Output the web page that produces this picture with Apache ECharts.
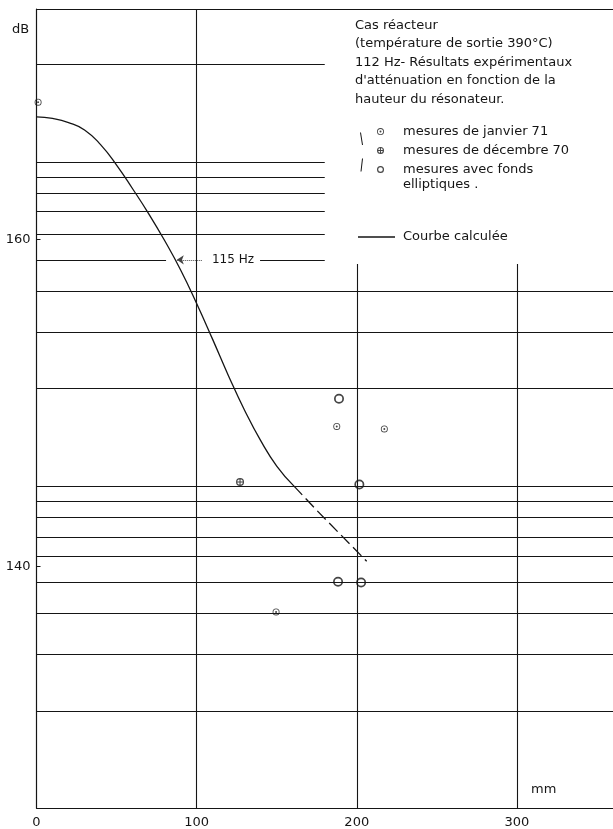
<!DOCTYPE html>
<html>
<head>
<meta charset="utf-8">
<style>
  html, body { margin: 0; padding: 0; background: #fff; }
  #chart { width: 613px; height: 829px; }
</style>
<script src="https://cdn.jsdelivr.net/npm/echarts@6/dist/echarts.min.js"></script>
</head>
<body>
<div id="chart"></div>
<script>
// axis ticks
const xTicks = [0, 100, 200, 300]
const yTicks = [140, 160]

// horizontal lines of the paper (dB)
const hLinesFull = [156.8, 154.3, 150.9, 144.9, 144.0, 143.0, 141.8, 140.6, 139.0, 137.1, 134.6, 131.1]
const hLinesShort = [170.7, 164.7, 163.8, 162.8, 161.7, 160.3]
const hzLine = 158.75

const curveSolid = [
  [0, 167.5], [10, 167.4], [20, 167.15], [30, 166.7], [40, 165.8], [50, 164.55],
  [60, 163.1], [70, 161.58], [80, 159.93], [90, 158.13], [100, 156.08], [110, 153.88],
  [120, 151.63], [130, 149.53], [140, 147.68], [150, 146.13], [160.8, 144.9]
]
const curveDashed = [[160.8, 144.9], [175.2, 143.4], [190.2, 141.9], [206.2, 140.3]]

// mesures
const janvier71 = [[1, 168.4], [187.5, 148.55], [217.2, 148.4], [149.6, 137.2]]
const decembre70 = [[127.1, 145.15]]
const elliptiques = [[188.9, 150.25], [201.6, 145.0], [188.3, 139.05], [202.7, 139.0]]

const noteLines = [
  'Cas réacteur',
  '(température de sortie 390°C)',
  '112 Hz- Résultats expérimentaux',
  "d'atténuation en fonction de la",
  'hauteur du résonateur.'
]

const X_MAX = 360
const Y_MIN = 125.2
const Y_MAX = 174.1
const SHORT_END = 180
const V_TOP = 158.5
const HZ_LEFT_END = 80.9
const HZ_RIGHT_START = 139.6
const ARROW_TAIL = 103.2
const ARROW_TIP = 87.6
const HZ_TEXT_X = 122.7

const ink = '#151515'
const font = 'DejaVu Sans'

const ring = r => `M0,-10A10,10,0,1,1,0,10A10,10,0,1,1,0,-10Z M0,-${r}A${r},${r},0,1,0,0,${r}A${r},${r},0,1,0,0,-${r}Z`
const janvierSym = 'path://' + ring(7.5) + ' M0,-2.8A2.8,2.8,0,1,1,0,2.8A2.8,2.8,0,1,1,0,-2.8Z'
const decSym = 'path://' + ring(7) + ' M-7.5,-1.3L7.5,-1.3L7.5,1.3L-7.5,1.3Z M-1.3,-7.5L1.3,-7.5L1.3,7.5L-1.3,7.5Z'
const ellipSym = 'path://' + ring(6.6)

const gridLines = [
  {yAxis: Y_MAX},
  ...hLinesFull.map(v => ({yAxis: v})),
  ...hLinesShort.map(v => [{coord: [0, v]}, {coord: [SHORT_END, v]}]),
  [{coord: [0, hzLine]}, {coord: [HZ_LEFT_END, hzLine]}],
  [{coord: [HZ_RIGHT_START, hzLine]}, {coord: [SHORT_END, hzLine]}],
  {xAxis: 100},
  [{coord: [200, Y_MIN]}, {coord: [200, V_TOP]}],
  [{coord: [300, Y_MIN]}, {coord: [300, V_TOP]}]
]

const chart = echarts.init(document.getElementById('chart'))

const option = {
  backgroundColor: '#fff',
  animation: false,
  title: {
    text: noteLines.join('\n'),
    left: 355,
    top: 16,
    padding: 0,
    textStyle: {
      fontFamily: font,
      fontSize: 13,
      fontWeight: 'normal',
      color: ink,
      lineHeight: 18.5
    }
  },
  legend: [{
    orient: 'vertical',
    left: 377,
    top: 125,
    padding: 0,
    itemWidth: 7,
    itemHeight: 7,
    itemGap: 6,
    selectedMode: false,
    data: [
      {name: 'mesures de janvier 71', icon: janvierSym},
      {name: 'mesures de décembre 70', icon: decSym},
      {name: 'mesures avec fonds elliptiques .', icon: ellipSym}
    ],
    formatter: n => n.startsWith('mesures avec') ? 'mesures avec fonds' : n,
    textStyle: {
      fontFamily: font,
      fontSize: 13,
      color: ink,
      lineHeight: 12,
      padding: [0, 0, 0, 14]
    }
  }, {
    left: 358,
    top: 230,
    padding: 0,
    itemWidth: 37,
    itemHeight: 1.4,
    selectedMode: false,
    data: [{name: 'Courbe calculée', icon: 'rect'}],
    textStyle: {
      fontFamily: font,
      fontSize: 13,
      color: ink,
      lineHeight: 14,
      padding: [0, 0, 0, 3]
    }
  }],
  grid: {
    left: 36.5,
    right: 0,
    top: 9,
    bottom: 21,
    outerBoundsMode: 'none'
  },
  xAxis: {
    type: 'value',
    min: 0,
    max: X_MAX,
    axisLine: {show: true, lineStyle: {color: ink, width: 1.2}},
    axisTick: {show: false},
    splitLine: {show: false},
    axisLabel: {
      customValues: xTicks,
      margin: 8,
      fontFamily: font,
      fontSize: 13,
      color: ink
    }
  },
  yAxis: {
    type: 'value',
    min: Y_MIN,
    max: Y_MAX,
    axisLine: {show: true, lineStyle: {color: ink, width: 1.2}},
    axisTick: {show: true, inside: true, length: 4, customValues: yTicks, lineStyle: {color: ink}},
    splitLine: {show: false},
    axisLabel: {
      customValues: yTicks,
      margin: 6,
      fontFamily: font,
      fontSize: 13,
      color: ink
    }
  },
  graphic: [
    {type: 'text', left: 12, top: 23, style: {text: 'dB', font: `13px "${font}"`, fill: ink}},
    {type: 'text', left: 531, top: 783, style: {text: 'mm', font: `13px "${font}"`, fill: ink}},
    {type: 'text', left: 403, top: 178, style: {text: 'elliptiques .', font: `13px "${font}"`, fill: ink}},
    {type: 'line', shape: {x1: 360.5, y1: 132.5, x2: 362.5, y2: 145}, style: {stroke: ink, lineWidth: 1}},
    {type: 'line', shape: {x1: 362.5, y1: 158.5, x2: 361, y2: 171.5}, style: {stroke: ink, lineWidth: 1}}
  ],
  series: [
    {
      name: 'Courbe calculée',
      type: 'line',
      data: curveSolid,
      smooth: true,
      symbol: 'none',
      color: ink,
      lineStyle: {color: ink, width: 1.3},
      z: 3,
      markLine: {
        silent: true,
        symbol: ['none', 'arrow'],
        symbolSize: 7,
        label: {show: false},
        lineStyle: {color: '#444', width: 1, type: 'dotted'},
        data: [[{coord: [ARROW_TAIL, hzLine]}, {coord: [ARROW_TIP, hzLine]}]]
      },
      markPoint: {
        silent: true,
        symbol: 'circle',
        symbolSize: 0,
        label: {
          show: true,
          position: 'inside',
          formatter: '115 Hz',
          fontFamily: font,
          fontSize: 12,
          color: ink
        },
        data: [{coord: [HZ_TEXT_X, hzLine]}]
      }
    },
    {
      name: 'Courbe extrapolée',
      type: 'line',
      data: curveDashed,
      symbol: 'none',
      color: ink,
      lineStyle: {color: ink, width: 1.3, type: [12, 5]},
      z: 3,
      markLine: {
        silent: true,
        symbol: ['none', 'none'],
        label: {show: false},
        lineStyle: {color: ink, width: 1.1, type: 'solid'},
        emphasis: {disabled: true},
        data: gridLines
      }
    },
    {
      name: 'mesures de janvier 71',
      type: 'scatter',
      data: janvier71,
      symbol: janvierSym,
      symbolSize: 7,
      itemStyle: {color: ink},
      z: 4
    },
    {
      name: 'mesures de décembre 70',
      type: 'scatter',
      data: decembre70,
      symbol: decSym,
      symbolSize: 8,
      itemStyle: {color: ink},
      z: 4
    },
    {
      name: 'mesures avec fonds elliptiques .',
      type: 'scatter',
      data: elliptiques,
      symbol: ellipSym,
      symbolSize: 10,
      itemStyle: {color: ink},
      z: 4
    }
  ]
}

chart.setOption(option)
</script>
</body>
</html>
